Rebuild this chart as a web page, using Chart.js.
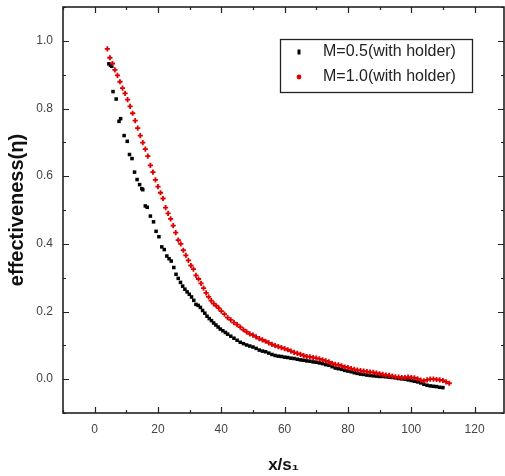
<!DOCTYPE html>
<html>
<head>
<meta charset="utf-8">
<script src="https://cdn.jsdelivr.net/npm/chart.js@4.4.1/dist/chart.umd.min.js"></script>
<style>
  body { margin: 0; background: #fff; }
</style>
</head>
<body>
<canvas id="chart" width="505" height="476"></canvas>
<script>
// tick labels
const xTicks = [0, 20, 40, 60, 80, 100, 120];
const yTicks = [0.0, 0.2, 0.4, 0.6, 0.8, 1.0];

// M=0.5 (with holder)
const blackX = [4.5,5.0,5.4,5.8,6.8,7.7,8.2,9.3,10.3,11.0,11.8,12.6,13.4,14.2,14.9,15.2,16.0,16.6,17.6,18.6,19.4,20.3,21.2,22.0,22.8,23.5,24.2,25.0,25.7,26.4,27.1,27.8,28.5,29.2,29.9,30.6,31.3,32.0,32.7,33.4,34.1,34.8,35.5,36.2,36.9,37.6,38.3,39.0,39.7,40.5,41.3,42.0,43,44,45,46,47,48,49,50,51,52,53,54,55,56,57,58,59,60,61,62,63,64,65,66,67,68,69,70,71,72,73,74,75,76,77,78,79,80,81,82,83,84,85,86,87,88,89,90,91,92,93,94,95,96,97,98,99,100,101,102,103,104,105,106,107,108,109,110];
const blackY = [0.932,0.928,0.925,0.850,0.828,0.762,0.770,0.720,0.703,0.664,0.652,0.612,0.590,0.575,0.563,0.560,0.512,0.508,0.482,0.465,0.437,0.421,0.391,0.383,0.364,0.356,0.349,0.330,0.310,0.298,0.286,0.275,0.266,0.258,0.251,0.243,0.233,0.221,0.218,0.212,0.203,0.195,0.186,0.179,0.173,0.166,0.160,0.154,0.148,0.143,0.138,0.133,0.127,0.121,0.115,0.109,0.105,0.101,0.098,0.095,0.091,0.086,0.083,0.081,0.077,0.073,0.070,0.068,0.067,0.065,0.064,0.062,0.061,0.059,0.057,0.056,0.054,0.053,0.051,0.050,0.048,0.046,0.043,0.041,0.037,0.033,0.031,0.029,0.026,0.024,0.022,0.019,0.017,0.015,0.014,0.012,0.011,0.010,0.009,0.008,0.008,0.007,0.006,0.005,0.004,0.002,0.001,0.000,-0.002,-0.004,-0.006,-0.008,-0.011,-0.015,-0.018,-0.020,-0.021,-0.022,-0.024,-0.025];

// M=1.0 (with holder)
const redX = [4.0,4.8,5.6,6.4,7.2,8.0,8.8,9.6,10.4,11.2,12.0,12.8,13.6,14.4,15.2,16.0,16.8,17.6,18.4,19.2,20.0,20.8,21.6,22.4,23.2,24.0,24.8,25.6,26.4,27.2,28.0,28.8,29.6,30.4,31.2,32.0,32.8,33.6,34.4,35.2,36.0,36.8,37.6,38.4,39.2,40,41,42,43,44,45,46,47,48,49,50,51,52,53,54,55,56,57,58,59,60,61,62,63,64,65,66,67,68,69,70,71,72,73,74,75,76,77,78,79,80,81,82,83,84,85,86,87,88,89,90,91,92,93,94,95,96,97,98,99,100,101,102,103,104,105,106,107,108,109,110,111,112];
const redY = [0.976,0.950,0.933,0.914,0.898,0.879,0.860,0.845,0.826,0.806,0.786,0.764,0.742,0.720,0.699,0.680,0.659,0.632,0.612,0.589,0.569,0.551,0.534,0.507,0.490,0.474,0.454,0.433,0.411,0.400,0.381,0.366,0.351,0.336,0.325,0.307,0.296,0.283,0.269,0.255,0.243,0.232,0.223,0.217,0.210,0.201,0.192,0.182,0.175,0.167,0.161,0.154,0.146,0.140,0.134,0.130,0.125,0.120,0.116,0.112,0.107,0.103,0.099,0.096,0.093,0.090,0.087,0.083,0.079,0.076,0.073,0.070,0.067,0.066,0.064,0.062,0.060,0.057,0.054,0.051,0.047,0.044,0.042,0.039,0.036,0.034,0.031,0.029,0.027,0.025,0.024,0.022,0.021,0.020,0.018,0.016,0.014,0.012,0.011,0.009,0.007,0.006,0.005,0.005,0.006,0.005,0.004,0.001,-0.003,-0.005,-0.002,0.000,0.000,-0.001,-0.002,-0.004,-0.008,-0.012];

const FONT = "'Liberation Sans', Arial, sans-serif";

function pts(xs, ys) {
  return xs.map((x, i) => ({x: x, y: ys[i]}));
}

// frame with inward major + minor ticks on all four sides, plus the legend box
const frame = {
  id: 'frame',
  afterDraw(chart) {
    const ctx = chart.ctx;
    const a = chart.chartArea;
    const xs = chart.scales.x, ys = chart.scales.y;
    ctx.save();
    ctx.strokeStyle = '#222';
    ctx.lineWidth = 1.6;
    ctx.strokeRect(a.left, a.top, a.right - a.left, a.bottom - a.top);
    ctx.lineWidth = 1.2;
    ctx.beginPath();
    for (let v = -10; v <= xs.max; v += 10) {
      const p = Math.round(xs.getPixelForValue(v)) + 0.5;
      const len = v % 20 === 0 ? 6 : 3;
      ctx.moveTo(p, a.bottom); ctx.lineTo(p, a.bottom - len);
      ctx.moveTo(p, a.top); ctx.lineTo(p, a.top + len);
    }
    for (let k = -1; k <= 11; k++) {
      const p = Math.round(ys.getPixelForValue(k / 10)) + 0.5;
      const len = k % 2 === 0 ? 6 : 3;
      ctx.moveTo(a.left, p); ctx.lineTo(a.left + len, p);
      ctx.moveTo(a.right, p); ctx.lineTo(a.right - len, p);
    }
    ctx.stroke();

    ctx.lineWidth = 1.3;
    ctx.strokeRect(280.5, 39.5, 192, 53);
    ctx.font = '16px ' + FONT;
    ctx.textBaseline = 'middle';
    ctx.fillStyle = '#222';
    chart.data.datasets.forEach((ds, i) => {
      const y = 52 + i * 25;
      ctx.fillText(ds.label, 323, y);
      ctx.fillStyle = ds.backgroundColor;
      if (ds.pointStyle === 'rect') {
        ctx.fillRect(297.5, y - 2.5, 3, 5);
      } else {
        ctx.beginPath();
        ctx.arc(299, y, 2.4, 0, Math.PI * 2);
        ctx.fill();
      }
      ctx.fillStyle = '#222';
    });
    ctx.restore();
  }
};

new Chart(document.getElementById('chart'), {
  type: 'scatter',
  data: {
    datasets: [
      {
        label: 'M=0.5(with holder)',
        data: pts(blackX, blackY),
        pointStyle: 'rect',
        pointRadius: 2.5,
        borderWidth: 0,
        backgroundColor: '#000',
        borderColor: '#000',
        order: 2
      },
      {
        label: 'M=1.0(with holder)',
        data: pts(redX, redY),
        pointStyle: 'cross',
        pointRadius: 2.6,
        borderWidth: 1.8,
        backgroundColor: '#e00000',
        borderColor: '#e00000',
        order: 1
      }
    ]
  },
  options: {
    responsive: false,
    animation: false,
    layout: { autoPadding: false, padding: { top: 7, right: 1, left: 0, bottom: 0 } },
    plugins: {
      legend: { display: false },
      tooltip: { enabled: false }
    },
    scales: {
      x: {
        type: 'linear',
        min: -10,
        max: 129.3,
        afterFit(s) { s.height = 63; s.paddingLeft = 0; s.paddingRight = 0; },
        afterBuildTicks(s) { s.ticks = xTicks.map(v => ({value: v})); },
        grid: { display: false, drawTicks: false },
        border: { display: false },
        ticks: { color: '#444', padding: 9, font: { size: 12, family: FONT } },
        title: {
          display: true,
          text: 'x/s\u2081',
          color: '#111',
          font: { size: 17, weight: 'bold', family: FONT },
          padding: { top: 4, bottom: 0 }
        }
      },
      y: {
        type: 'linear',
        min: -0.1,
        max: 1.1,
        afterFit(s) { s.width = 63; s.paddingTop = 0; s.paddingBottom = 0; },
        afterBuildTicks(s) { s.ticks = yTicks.map(v => ({value: v})); },
        grid: { display: false, drawTicks: false },
        border: { display: false },
        ticks: {
          color: '#444',
          padding: 10,
          font: { size: 12, family: FONT },
          callback: v => v.toFixed(1)
        },
        title: {
          display: true,
          text: 'effectiveness(\u03b7)',
          color: '#111',
          font: { size: 20, weight: 'bold', family: FONT },
          padding: { top: 5, bottom: 0 }
        }
      }
    }
  },
  plugins: [frame]
});
</script>
</body>
</html>
